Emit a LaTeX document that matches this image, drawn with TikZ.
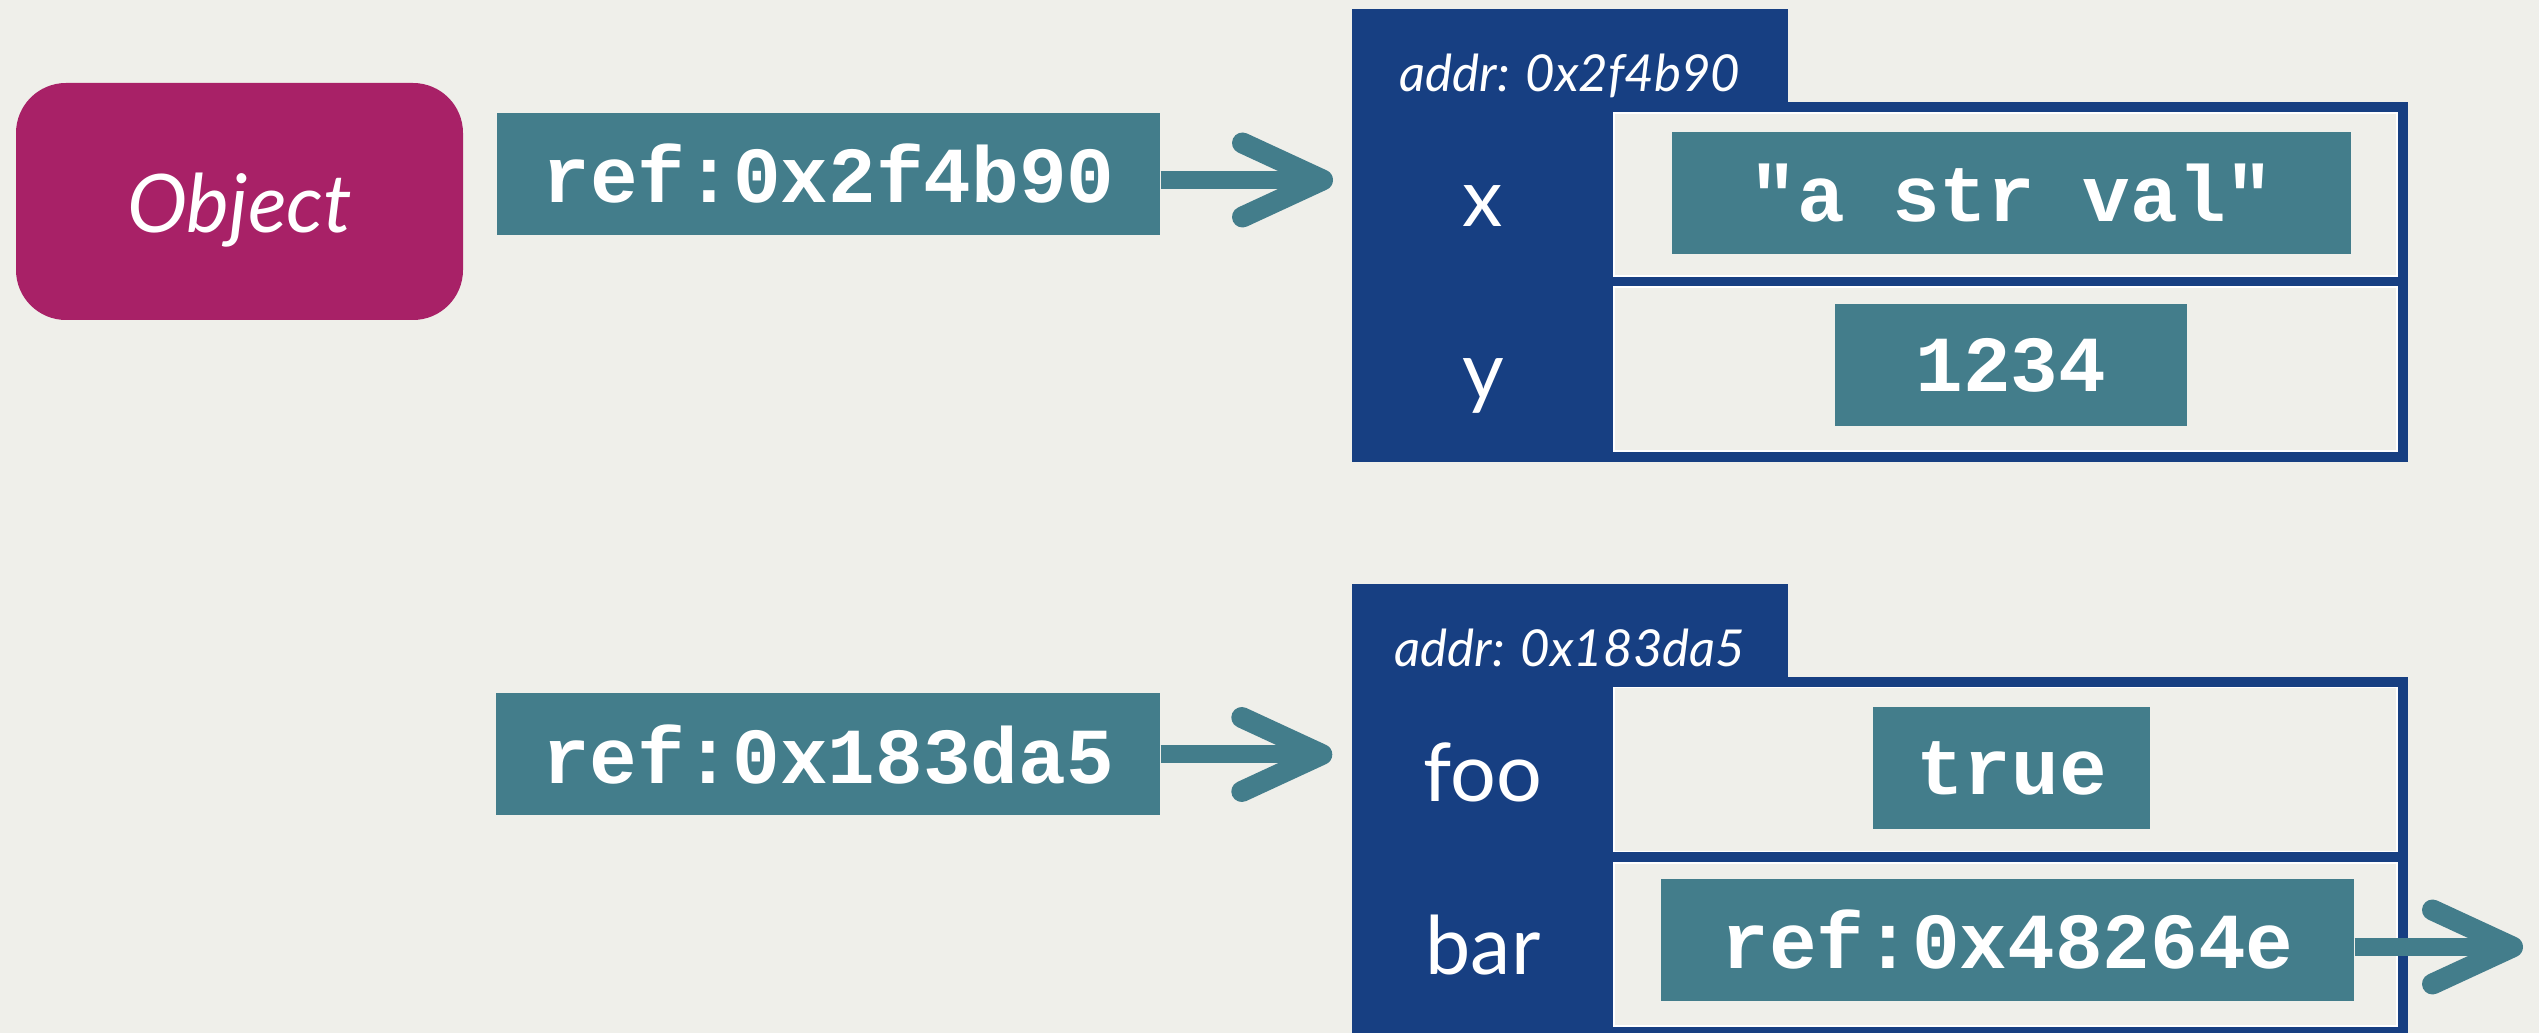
\documentclass[tikz,border=0pt]{standalone}
\usepackage{fontspec}
\setmainfont{Lato}
\setmonofont{Liberation Mono}
\usetikzlibrary{arrows.meta,positioning}

\definecolor{bgcol}{RGB}{239,239,234}
\definecolor{refteal}{RGB}{67,125,139}
\definecolor{objblue}{RGB}{23,63,130}
\definecolor{classpink}{RGB}{168,33,103}

\tikzset{
  valbox/.style={fill=refteal, text=white, inner sep=0pt, minimum height=1.22cm,
    font=\ttfamily\bfseries\fontsize{22.6}{27}\selectfont},
  fieldname/.style={text=white, inner sep=0pt, anchor=base, font=\fontsize{23}{28}\selectfont},
  addrlabel/.style={text=white, inner sep=0pt, anchor=base, font=\itshape\fontsize{14.5}{17}\selectfont},
  objpart/.style={fill=objblue, inner sep=0pt},
  cell/.style={fill=bgcol, draw=white, line width=0.4pt, inner sep=0pt, minimum width=7.83cm},
  ptr/.style={draw=refteal, line width=0.18cm,
    -{Straight Barb[length=0.8cm, width=0.74cm, line width=0.03cm 1, line cap=round, line join=round]}},
}

\begin{document}
\begin{tikzpicture}
\useasboundingbox[fill=bgcol] (0,0) rectangle (25.39,10.33);

% class name
\node[fill=classpink, text=white, rounded corners=0.5cm, minimum width=4.47cm, minimum height=2.37cm,
  text height=0.8cm, text depth=0.17cm, font=\itshape\fontsize{23}{28}\selectfont] (cls) at (2.395,8.315) {Object};

% references
\node[valbox, minimum width=6.63cm] (ref1) at (8.285,8.59) {ref:0x2f4b90};
\node[valbox, minimum width=6.64cm] (ref2) at (8.28,2.785) {ref:0x183da5};

% first object
\begin{scope}
\node[objpart, minimum width=4.36cm, minimum height=0.95cm] (tab1) at (15.70,9.765) {};
\node[objpart, minimum width=10.56cm, minimum height=3.60cm] (obj1) at (18.80,7.51) {};
\node[addrlabel] (addr1) at (15.70,9.41) {addr: 0x2f4b90};
\node[cell, minimum height=1.63cm] (cellx) at (20.055,8.385) {};
\node[cell, minimum height=1.64cm] (celly) at (20.055,6.64) {};
\node[fieldname] (namex) at (14.83,8.06) {x};
\node[fieldname] (namey) at (14.83,6.33) {y};
\node[valbox, minimum width=6.79cm] (valx) at (20.115,8.40) {"a str val"};
\node[valbox, minimum width=3.52cm] (valy) at (20.11,6.675) {1234};
\coordinate (in1) at (13.52,8.53);
\end{scope}

% second object
\begin{scope}[yshift=-5.75cm]
\node[objpart, minimum width=4.36cm, minimum height=0.95cm] (tab2) at (15.70,9.765) {};
\node[objpart, minimum width=10.56cm, minimum height=3.60cm] (obj2) at (18.80,7.51) {};
\node[addrlabel] (addr2) at (15.70,9.41) {addr: 0x183da5};
\node[cell, minimum height=1.64cm] (cellfoo) at (20.055,8.385) {};
\node[cell, minimum height=1.63cm] (cellbar) at (20.055,6.635) {};
\node[fieldname] (namefoo) at (14.83,8.06) {foo};
\node[fieldname] (namebar) at (14.83,6.33) {bar};
\node[valbox, minimum width=2.77cm] (valfoo) at (20.115,8.395) {true};
\node[valbox, minimum width=6.93cm] (valbar) at (20.075,6.68) {ref:0x48264e};
\coordinate (barend) at (25.23,6.61);
\end{scope}

% pointers
\draw[ptr, shorten >=0.19cm] (ref1.east |- in1) -- (in1);
\draw[ptr, shorten >=0.19cm] (ref2.east) -- (obj2.west |- ref2.east);
\draw[ptr] (valbar.east |- barend) -- (barend);

\end{tikzpicture}
\end{document}
